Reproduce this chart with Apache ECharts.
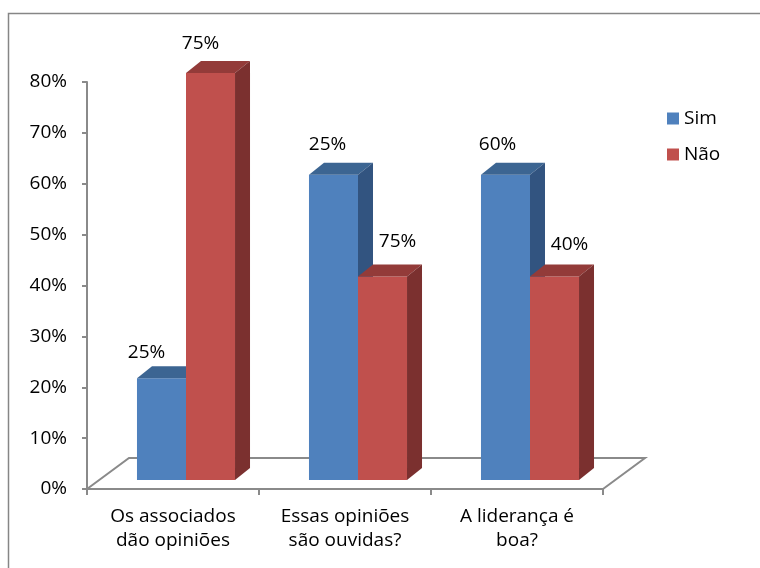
<!DOCTYPE html>
<html>
<head>
<meta charset="utf-8">
<script src="https://cdn.jsdelivr.net/npm/echarts@6/dist/echarts.min.js"></script>
<style>html,body{margin:0;padding:0;background:#fff}#c{width:760px;height:568px}</style>
</head>
<body>
<div id="c"></div>
<script>
// ---- data ----
const categories = ['Os associados\ndão opiniões', 'Essas opiniões\nsão ouvidas?', 'A liderança é\nboa?'];
const seriesNames = ['Sim', 'Não'];
const simValues = [20, 60, 60];
const naoValues = [80, 40, 40];
const simLabels = ['25%', '25%', '60%'];
const naoLabels = ['75%', '75%', '40%'];
const yTicks = [0, 10, 20, 30, 40, 50, 60, 70, 80];

// ---- styles ----
const FONT = '"Open Sans", "Noto Sans", sans-serif';
const colors = {
  Sim: { front: '#4F81BD', top: '#3C6592', side: '#325480' },
  'Não': { front: '#C0504D', top: '#933B39', side: '#7B302F' }
};
const labelNudge = {
  Sim: [[-15, 4], [-6, 0], [-8, 0]],
  'Não': [[-10, 1], [15, -5], [15, -2]]
};
const BAR_SHIFT = [13, -9];
const DEPTH = [15, -12];
const FLOOR = [42, -31];

const chart = echarts.init(document.getElementById('c'), null, { renderer: 'canvas' });

function barRender(name, labels, seriesIdx) {
  return function (params, api) {
    const idx = api.value(0);
    const v = api.value(1);
    const base = api.coord([idx, 0]);
    const top = api.coord([idx, v]);
    const bw = api.size([1, 0])[0] * 0.285;
    const x0 = base[0] + BAR_SHIFT[0] - (seriesIdx === 0 ? bw : 0);
    const x1 = x0 + bw;
    const yb = base[1] + BAR_SHIFT[1];
    const yt = top[1] + BAR_SHIFT[1];
    const c = colors[name];
    const nudge = labelNudge[name][idx];
    return {
      type: 'group',
      children: [
        { type: 'rect', shape: { x: x0, y: yt, width: bw, height: yb - yt }, style: { fill: c.front } },
        { type: 'polygon', shape: { points: [[x0, yt], [x1, yt], [x1 + DEPTH[0], yt + DEPTH[1]], [x0 + DEPTH[0], yt + DEPTH[1]]] }, style: { fill: c.top } },
        { type: 'polygon', shape: { points: [[x1, yt], [x1 + DEPTH[0], yt + DEPTH[1]], [x1 + DEPTH[0], yb + DEPTH[1]], [x1, yb]] }, style: { fill: c.side } },
        { type: 'text', style: { text: labels[idx], x: (x0 + x1) / 2 + nudge[0], y: yt - 30 + nudge[1], align: 'center', verticalAlign: 'middle', fill: '#000', font: '19px ' + FONT } }
      ]
    };
  };
}

const option = {
  animation: false,
  backgroundColor: '#fff',
  graphic: [{
    type: 'rect', shape: { x: 8.5, y: 13.5, width: 800, height: 620 },
    style: { fill: 'none', stroke: '#868686', lineWidth: 1.5 }, z: -10
  }],
  legend: {
    data: seriesNames,
    orient: 'vertical',
    left: 662, top: 104,
    itemWidth: 12, itemHeight: 12, itemGap: 17,
    icon: 'rect',
    textStyle: { fontFamily: FONT, fontSize: 19, color: '#000', padding: [0, 0, 0, 0] }
  },
  grid: { left: 87, right: 157, top: 82, bottom: 79, containLabel: false },
  xAxis: {
    type: 'category',
    data: categories,
    boundaryGap: true,
    axisLine: { lineStyle: { color: '#8A8A8A', width: 2 } },
    axisTick: { show: true, length: 6, alignWithLabel: false, lineStyle: { color: '#8A8A8A', width: 2 } },
    axisLabel: { fontFamily: FONT, fontSize: 19, color: '#000', lineHeight: 24, margin: 16, interval: 0 }
  },
  yAxis: {
    type: 'value',
    min: 0, max: 80, interval: 10,
    axisLine: { show: true, lineStyle: { color: '#8A8A8A', width: 2 } },
    axisTick: { show: true, length: 5, lineStyle: { color: '#8A8A8A', width: 2 } },
    splitLine: { show: false },
    axisLabel: { fontFamily: FONT, fontSize: 19, color: '#000', margin: 20, formatter: v => yTicks.includes(v) ? v + '%' : '' }
  },
  series: [
    {
      name: 'floor', type: 'custom', z: 1, silent: true,
      data: [[0, 0]],
      renderItem: function (params, api) {
        const cs = params.coordSys;
        const x0 = cs.x, x1 = cs.x + cs.width, y0 = cs.y + cs.height;
        return {
          type: 'polyline',
          shape: { points: [[x1, y0], [x1 + FLOOR[0], y0 + FLOOR[1]], [x0 + FLOOR[0], y0 + FLOOR[1]], [x0, y0]] },
          style: { stroke: '#8A8A8A', lineWidth: 2, fill: 'none' }
        };
      }
    },
    {
      name: 'Sim', type: 'custom', z: 3,
      itemStyle: { color: colors.Sim.front },
      data: simValues.map((v, i) => [i, v]),
      renderItem: barRender('Sim', simLabels, 0)
    },
    {
      name: 'Não', type: 'custom', z: 4,
      itemStyle: { color: colors['Não'].front },
      data: naoValues.map((v, i) => [i, v]),
      renderItem: barRender('Não', naoLabels, 1)
    }
  ]
};
chart.setOption(option);
</script>
</body>
</html>
